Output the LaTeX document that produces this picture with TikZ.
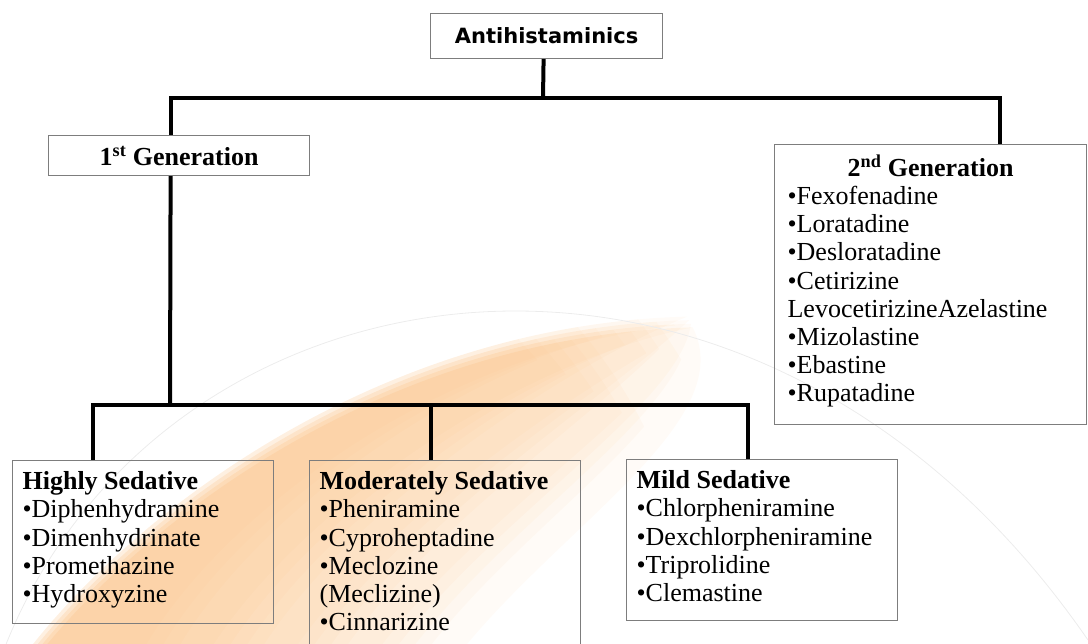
\documentclass[tikz,border=0pt]{standalone}
\usepackage{fontspec}
\setmainfont{Liberation Serif}
\newfontfamily\headfont{DejaVu Sans}
\definecolor{swoosh}{RGB}{250,182,110}
\definecolor{boxgray}{RGB}{125,125,125}
\newcommand{\cellbody}[3]{\parbox[c][#1][t]{#2}{\raggedright #3}}
\begin{document}
\begin{tikzpicture}[x=1pt,y=-1pt,
  every node/.style={font=\fontsize{26}{28.2}\selectfont},
  box/.style={draw=boxgray, line width=1.2pt, inner sep=0pt, anchor=north west},
  conn/.style={line width=4pt, black}]
\useasboundingbox (0,0) rectangle (1088,644);
% background swoosh
\begin{scope}
\clip (0,0) rectangle (1088,644);
\foreach \k in {1,...,16}{
  \pgfmathsetmacro{\f}{\k/16}
  \pgfmathsetmacro{\bx}{110+330*\f}
  \pgfmathsetmacro{\ax}{420+320*\f}
  \pgfmathsetmacro{\ay}{340+80*\f}
  \pgfmathsetmacro{\cx}{180+360*\f}
  \pgfmathsetmacro{\cy}{520+10*\f}
  \pgfmathsetmacro{\R}{640-13*mod(5*\k,16)}
  \pgfmathsetmacro{\s}{12*mod(\k,4)/3-6}
  \begin{scope}
  \clip (200,650) circle[radius=\R pt];
  \fill[swoosh, fill opacity=0.055, shift={(-0.45*\s,-0.9*\s)}]
     (20,670) .. controls (130,520) and (380,330) .. (690,322)
     .. controls (\ax,\ay) and (\cx,\cy) .. (\bx,670) -- cycle;
  \end{scope}
}
\draw[gray!15, line width=0.8pt] (0,660) .. controls (150,250) and (750,150) .. (1088,640);
\end{scope}
% boxes
\node[box, minimum width=232pt, minimum height=45pt] (anti) at (430,13)
  {\headfont\bfseries\fontsize{21}{25}\selectfont Antihistaminics};
\node[box, minimum width=261pt, minimum height=40pt] (g1) at (48,135)
  {\bfseries 1\textsuperscript{st} Generation};
\node[box, inner xsep=13pt, inner ysep=10pt] (g2) at (774,144)
  {\parbox[c][260pt][t]{286pt}{\centering\bfseries 2\textsuperscript{nd} Generation\par
   \raggedright\mdseries
   •Fexofenadine\\
   •Loratadine\\
   •Desloratadine\\
   •Cetirizine\\
   LevocetirizineAzelastine\\
   •Mizolastine\\
   •Ebastine\\
   •Rupatadine}};
\node[box, inner xsep=10pt, inner ysep=11pt] (hs) at (12,460)
  {\cellbody{141pt}{241pt}{\textbf{Highly Sedative}\\
   •Diphenhydramine\\
   •Dimenhydrinate\\
   •Promethazine\\
   •Hydroxyzine}};
\node[box, inner xsep=10pt, inner ysep=11pt] (ms) at (309,460)
  {\cellbody{168pt}{251pt}{\textbf{Moderately Sedative}\\
   •Pheniramine\\
   •Cyproheptadine\\
   •Meclozine\\
   (Meclizine)\\
   •Cinnarizine}};
\node[box, inner xsep=10pt, inner ysep=11pt] (mild) at (626,459)
  {\cellbody{139pt}{251pt}{\textbf{Mild Sedative}\\
   •Chlorpheniramine\\
   •Dexchlorpheniramine\\
   •Triprolidine\\
   •Clemastine}};
% connectors
\coordinate (top) at (543,98);
\coordinate (bot) at (170,405);
\coordinate (msj) at ([xshift=-14.5pt]ms.north);
\draw[conn] ([xshift=-3pt]anti.south) -- (top);
\draw[conn] ([xshift=-8.5pt]g1.north) |- (top) -| ([xshift=69pt]g2.north);
\draw[conn] ([xshift=-8.5pt]g1.south) -- (bot);
\draw[conn] ([xshift=-50.5pt]hs.north) |- (bot) -| ([xshift=-14.5pt]mild.north);
\draw[conn] (msj) -- (msj |- bot);
\end{tikzpicture}
\end{document}
